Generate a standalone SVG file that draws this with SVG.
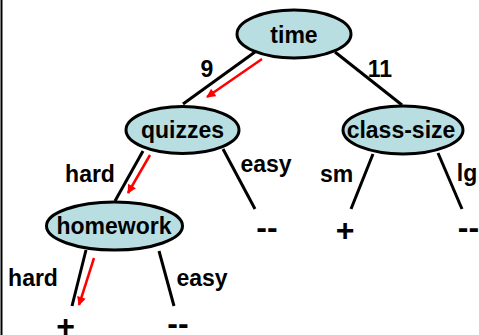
<svg xmlns="http://www.w3.org/2000/svg" width="479" height="335" viewBox="0 0 479 335">
<defs>
<style>
.node ellipse{fill:#b8dee2;stroke:#000;stroke-width:3}
text{font-family:"Liberation Sans",Arial,sans-serif;font-weight:bold;fill:#000;text-anchor:middle}
.nl{font-size:23px}
.el{font-size:23px}
.leaf{font-size:32px}
.edge{stroke:#000;stroke-width:3;fill:none}
.path{stroke:#f00;stroke-width:2.5;fill:none;marker-end:url(#ah)}
</style>
<marker id="ah" viewBox="0 0 10 10" refX="9" refY="5" markerWidth="10" markerHeight="9" markerUnits="userSpaceOnUse" orient="auto">
<path d="M0,0 L10,5 L0,10 z" fill="#f00"/>
</marker>
</defs>
<rect x="0" y="0" width="479" height="335" fill="#fff"/>
<line x1="1.5" y1="0" x2="1.5" y2="335" stroke="#000" stroke-width="2"/>
<g id="connectors">
<line class="edge" x1="255" y1="52" x2="183" y2="104"/>
<line class="edge" x1="335" y1="52" x2="402" y2="105"/>
<line class="edge" x1="143" y1="151" x2="115" y2="201"/>
<line class="edge" x1="223" y1="149" x2="255" y2="209"/>
<line class="edge" x1="373" y1="154" x2="351" y2="209"/>
<line class="edge" x1="438" y1="153" x2="462" y2="209"/>
<line class="edge" x1="86" y1="250" x2="72" y2="306"/>
<line class="edge" x1="159" y1="251" x2="174" y2="306"/>
<line class="path" x1="262" y1="59" x2="207" y2="97"/>
<line class="path" x1="150" y1="155" x2="128" y2="193"/>
<line class="path" x1="94" y1="258" x2="79" y2="305"/>
<text class="el" x="207" y="77">9</text>
<text class="el" x="380" y="77">11</text>
<text class="el" x="90" y="182">hard</text>
<text class="el" x="266" y="172">easy</text>
<text class="el" x="336.5" y="182">sm</text>
<text class="el" x="467" y="181">lg</text>
<text class="el" x="33" y="286">hard</text>
<text class="el" x="202" y="286">easy</text>
</g>
<g id="time" class="node"><ellipse cx="294" cy="34" rx="57" ry="24"/><text class="nl" x="294" y="43">time</text></g>
<g id="quizzes" class="node"><ellipse cx="182.5" cy="130" rx="56.5" ry="23.5"/><text class="nl" x="182.5" y="138">quizzes</text></g>
<g id="class-size" class="node"><ellipse cx="403" cy="130" rx="60" ry="24"/><text class="nl" x="401" y="138">class-size</text></g>
<g id="homework" class="node"><ellipse cx="114.5" cy="226" rx="68" ry="24"/><text class="nl" x="114" y="234">homework</text></g>
<g id="leaf-quizzes-easy"><text class="leaf" x="267" y="237.5">--</text></g>
<g id="leaf-sm"><text class="leaf" x="345" y="241">+</text></g>
<g id="leaf-lg"><text class="leaf" x="468.5" y="237.5">--</text></g>
<g id="leaf-hw-hard"><text class="leaf" x="65.5" y="337">+</text></g>
<g id="leaf-hw-easy"><text class="leaf" x="178" y="333.5">--</text></g>
</svg>
